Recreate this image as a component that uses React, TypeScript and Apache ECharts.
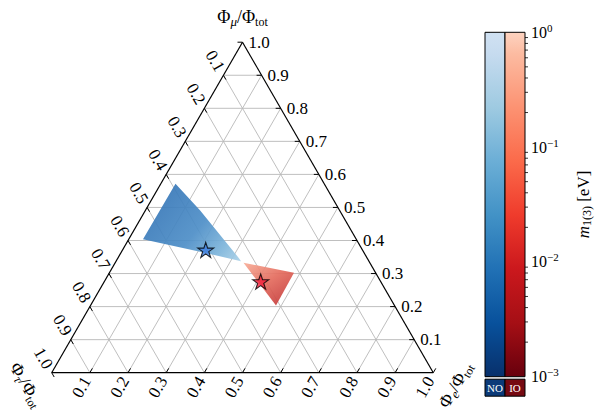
import React, { useEffect, useRef } from 'react';
import * as echarts from 'echarts';

// ---- data ----
const tickValues = [0.1, 0.2, 0.3, 0.4, 0.5, 0.6, 0.7, 0.8, 0.9, 1.0];
const tickLabels = ['0.1', '0.2', '0.3', '0.4', '0.5', '0.6', '0.7', '0.8', '0.9', '1.0'];
const gridValues = [0.1, 0.2, 0.3, 0.4, 0.5, 0.6, 0.7, 0.8, 0.9];

// ternary fractions: e = Φe/Φtot, mu = Φμ/Φtot (τ = 1 − e − μ)
const noRegionE = [0.0386, 0.1428, 0.3175, 0.3274, 0.2055, 0.0373];
const noRegionMu = [0.5716, 0.4915, 0.3465, 0.3375, 0.3662, 0.4039];
const ioRegionE = [0.3361, 0.4836, 0.4863];
const ioRegionMu = [0.3329, 0.3027, 0.203];
const bestFitE = [0.2168, 0.4087];
const bestFitMu = [0.3737, 0.2779];
const bestFitColors = ['#3d7ee0', '#f2203c'];

const orderings = ['NO', 'IO'];
const cbMin = 0.001;
const cbMax = 1;
const cbMinorTicks = [
  0.002, 0.003, 0.004, 0.005, 0.006, 0.007, 0.008, 0.009,
  0.02, 0.03, 0.04, 0.05, 0.06, 0.07, 0.08, 0.09,
  0.2, 0.3, 0.4, 0.5, 0.6, 0.7, 0.8, 0.9,
];

const FONT = "'Liberation Serif', 'DejaVu Serif', serif";
const S = Math.sqrt(3) / 2;
const toXY = (e: number, mu: number) => [e + mu / 2, mu * S];

const blueStops = [
  [0, '#d0e1f2'], [0.0625, '#c6dbef'], [0.219, '#9ecae1'], [0.375, '#6baed6'],
  [0.531, '#4292c6'], [0.6875, '#2171b5'], [0.844, '#08519c'], [1, '#08306b'],
];
const redStops = [
  [0, '#fdd3c0'], [0.0625, '#fcbba1'], [0.219, '#fc9272'], [0.375, '#fb6a4a'],
  [0.531, '#ef3b2c'], [0.6875, '#cb181d'], [0.844, '#a50f15'], [1, '#67000d'],
];
const cbStops = [blueStops, redStops];
const boxColors = ['#0b3a78', '#760a12'];

const STAR = 'path://M100 0 L122.45 69.1 L195.1 69.1 L136.33 111.8 L158.8 180.9 L100 138.2 L41.2 180.9 L63.67 111.8 L4.9 69.1 L77.55 69.1 Z';

const richT = {
  b: { fontFamily: FONT, fontSize: 18, lineHeight: 22, color: '#000' },
  s: { fontFamily: FONT, fontSize: 12, lineHeight: 10, verticalAlign: 'bottom', color: '#000' },
  si: { fontFamily: FONT, fontSize: 13, lineHeight: 10, verticalAlign: 'bottom', fontStyle: 'italic', color: '#000' },
};

function gridRender(params: any, api: any) {
  const c = (e: number, mu: number) => api.coord(toXY(e, mu));
  const children: any[] = [];
  gridValues.forEach((v) => {
    const segs = [
      [c(0, v), c(1 - v, v)],
      [c(v, 0), c(v, 1 - v)],
      [c(1 - v, 0), c(0, 1 - v)],
    ];
    segs.forEach(([a, b]) =>
      children.push({
        type: 'line',
        shape: { x1: a[0], y1: a[1], x2: b[0], y2: b[1] },
        style: { stroke: '#b8b8b8', lineWidth: 0.9 },
      })
    );
  });
  return { type: 'group', children };
}

function regionRender(params: any, api: any) {
  const isNO = params.dataIndex === 0;
  const es = isNO ? noRegionE : ioRegionE;
  const ms = isNO ? noRegionMu : ioRegionMu;
  const pts = es.map((e, i) => api.coord(toXY(e, ms[i])));
  const fill = isNO
    ? new echarts.graphic.LinearGradient(0, 0.35, 1, 1, [
        { offset: 0, color: '#3676b7' },
        { offset: 0.5, color: '#4d8ec7' },
        { offset: 0.8, color: '#7fb6db' },
        { offset: 1, color: '#acd2e8' },
      ])
    : new echarts.graphic.LinearGradient(0, 0, 0.8, 1, [
        { offset: 0, color: '#f8ae98' },
        { offset: 0.5, color: '#e46c5e' },
        { offset: 1, color: '#c43a3a' },
      ]);
  return {
    type: 'polygon',
    shape: { points: pts },
    style: { fill, opacity: 0.92 },
  };
}

function frameRender(params: any, api: any) {
  const c = (e: number, mu: number) => api.coord(toXY(e, mu));
  const T = c(0, 1);
  const BL = c(0, 0);
  const BR = c(1, 0);
  const children: any[] = [];
  const line = (a: number[], b: number[], w = 1.2) =>
    children.push({
      type: 'line',
      shape: { x1: a[0], y1: a[1], x2: b[0], y2: b[1] },
      style: { stroke: '#000', lineWidth: w },
    });
  line(BL, BR);
  line(BR, T);
  line(T, BL);
  const L = 5;
  const G = 6;
  const txt = (x: number, y: number, text: string, align: string, rotation: number) =>
    children.push({
      type: 'text',
      x,
      y,
      rotation,
      style: { text, align, verticalAlign: 'middle', fontFamily: FONT, fontSize: 17, fill: '#000' },
    });
  tickValues.forEach((v, i) => {
    // right edge: Φμ
    const pr = c(1 - v, v);
    line(pr, [pr[0] - L, pr[1]], 1);
    txt(pr[0] + G, pr[1], tickLabels[i], 'left', 0);
    // left edge: Φτ
    const pl = c(0, 1 - v);
    line(pl, [pl[0] + L * 0.5, pl[1] + L * S], 1);
    txt(pl[0] - G * 0.5, pl[1] - G * S, tickLabels[i], 'right', -Math.PI / 3);
    // bottom edge: Φe
    const pb = c(v, 0);
    line(pb, [pb[0] + L * 0.5, pb[1] - L * S], 1);
    txt(pb[0] - G * 0.5, pb[1] + G * S, tickLabels[i], 'right', Math.PI / 3);
  });
  const title = (x: number, y: number, text: string, rotation: number) =>
    children.push({
      type: 'text',
      x,
      y,
      rotation,
      style: { text, rich: richT, align: 'center', verticalAlign: 'middle' },
    });
  title(T[0], T[1] - 25, '{b|Φ}{si|μ}{b|/Φ}{s|tot}', 0);
  title(BL[0] - 25, BL[1] + 12, '{b|Φ}{si|τ}{b|/Φ}{s|tot}', -Math.PI / 3);
  title(BR[0] + 22, BR[1] + 12, '{b|Φ}{si|e}{b|/Φ}{s|tot}', Math.PI / 3);
  return { type: 'group', children };
}

function barRender(params: any, api: any) {
  const i = params.dataIndex;
  const tl = api.coord([i, cbMax]);
  const br = api.coord([i + 1, cbMin]);
  const stops = cbStops[i].map(([o, col]) => ({ offset: o as number, color: col as string }));
  const w = br[0] - tl[0];
  return {
    type: 'group',
    children: [
      {
        type: 'rect',
        shape: { x: tl[0], y: tl[1], width: w, height: br[1] - tl[1] },
        style: { fill: new echarts.graphic.LinearGradient(0, 0, 0, 1, stops), stroke: '#000', lineWidth: 1 },
      },
      {
        type: 'rect',
        shape: { x: tl[0], y: br[1] + 2.5, width: w, height: 17 },
        style: { fill: boxColors[i], stroke: '#000', lineWidth: 1 },
      },
      {
        type: 'text',
        x: tl[0] + w / 2,
        y: br[1] + 11.5,
        style: { text: orderings[i], align: 'center', verticalAlign: 'middle', fontFamily: FONT, fontSize: 11, fill: '#fff' },
      },
    ],
  };
}

function minorRender(params: any, api: any) {
  const p = api.coord([2, api.value(1)]);
  return {
    type: 'line',
    shape: { x1: p[0], y1: p[1], x2: p[0] + 3, y2: p[1] },
    style: { stroke: '#000', lineWidth: 0.8 },
  };
}

const option: any = {
  animation: false,
  backgroundColor: '#fff',
  grid: [
    { left: 51.7, top: 42.2, width: 381.6, height: 330.5 },
    { left: 485, top: 32.3, width: 40, height: 344.4 },
  ],
  xAxis: [
    { type: 'value', min: 0, max: 1, show: false, gridIndex: 0 },
    { type: 'value', min: 0, max: 2, show: false, gridIndex: 1 },
  ],
  yAxis: [
    { type: 'value', min: 0, max: S, show: false, gridIndex: 0 },
    {
      type: 'log',
      logBase: 10,
      min: cbMin,
      max: cbMax,
      gridIndex: 1,
      position: 'right',
      axisLine: { show: false },
      splitLine: { show: false },
      axisTick: { show: true, length: 5, lineStyle: { color: '#000', width: 1 } },
      axisLabel: {
        show: true,
        margin: 6,
        showMinLabel: true,
        showMaxLabel: true,
        formatter: (v: number) => {
          const e = Math.round(Math.log10(v));
          return '{b|10}{p|' + (e < 0 ? '\u2212' + -e : String(e)) + '}';
        },
        rich: {
          b: { fontFamily: FONT, fontSize: 16, lineHeight: 20, color: '#000' },
          p: { fontFamily: FONT, fontSize: 11, lineHeight: 9, verticalAlign: 'top', color: '#000' },
        },
      },
      name: '{i|m}{s|1(3)}{b| [eV]}',
      nameLocation: 'middle',
      nameRotate: 90,
      nameGap: 48,
      nameTextStyle: {
        rich: {
          i: { fontFamily: FONT, fontSize: 17, fontStyle: 'italic', lineHeight: 20, color: '#000' },
          s: { fontFamily: FONT, fontSize: 12, lineHeight: 9, verticalAlign: 'bottom', color: '#000' },
          b: { fontFamily: FONT, fontSize: 17, lineHeight: 20, color: '#000' },
        },
      },
    },
  ],
  series: [
    {
      type: 'custom',
      name: 'gridlines',
      xAxisIndex: 0,
      yAxisIndex: 0,
      clip: false,
      z: 1,
      silent: true,
      data: [[0.5, 0.4]],
      renderItem: gridRender,
    },
    {
      type: 'custom',
      name: 'regions',
      xAxisIndex: 0,
      yAxisIndex: 0,
      clip: false,
      z: 2,
      data: orderings.map((o, i) => {
        const es = i === 0 ? noRegionE : ioRegionE;
        const ms = i === 0 ? noRegionMu : ioRegionMu;
        return toXY(es[0], ms[0]);
      }),
      renderItem: regionRender,
    },
    {
      type: 'custom',
      name: 'frame',
      xAxisIndex: 0,
      yAxisIndex: 0,
      clip: false,
      z: 3,
      silent: true,
      data: [[0.5, 0.4]],
      renderItem: frameRender,
    },
    {
      type: 'scatter',
      name: 'best fit',
      xAxisIndex: 0,
      yAxisIndex: 0,
      z: 5,
      symbol: STAR,
      symbolSize: [16, 15.2],
      symbolOffset: [0, 0.7],
      data: bestFitE.map((e, i) => ({
        value: toXY(e, bestFitMu[i]),
        itemStyle: { color: bestFitColors[i], borderColor: '#000', borderWidth: 1.1 },
      })),
    },
    {
      type: 'custom',
      name: 'colorbar',
      xAxisIndex: 1,
      yAxisIndex: 1,
      clip: false,
      z: 2,
      data: orderings.map((o, i) => [i + 0.5, 0.03]),
      renderItem: barRender,
    },
    {
      type: 'custom',
      name: 'minor ticks',
      xAxisIndex: 1,
      yAxisIndex: 1,
      clip: false,
      z: 3,
      data: cbMinorTicks.map((v) => [2, v]),
      renderItem: minorRender,
    },
  ],
};

export default function App() {
  const ref = useRef<HTMLDivElement>(null);
  useEffect(() => {
    const chart = echarts.init(ref.current as HTMLDivElement, null, { renderer: 'svg' });
    chart.setOption(option);
    return () => chart.dispose();
  }, []);
  return <div ref={ref} style={{ position: 'absolute', left: 0, top: 0, width: 600, height: 414 }} />;
}
